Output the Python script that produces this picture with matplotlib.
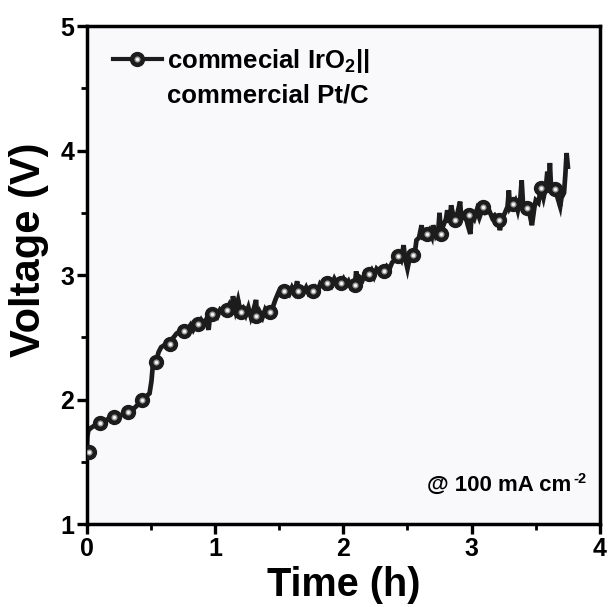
import numpy as np
import matplotlib
matplotlib.use("Agg")
import matplotlib.pyplot as plt
from matplotlib.lines import Line2D
from matplotlib.legend_handler import HandlerTuple
from matplotlib.ticker import MultipleLocator

plt.rcParams["font.family"] = ["Liberation Sans", "DejaVu Sans"]
plt.rcParams["font.weight"] = "bold"
plt.rcParams["mathtext.fontset"] = "custom"
plt.rcParams["mathtext.rm"] = "Liberation Sans:bold"
plt.rcParams["mathtext.bf"] = "Liberation Sans:bold"
plt.rcParams["mathtext.it"] = "Liberation Sans:bold"

# ---------- data ----------
# full voltage trace (noisy)
trace_t = [0.000, 0.005, 0.012, 0.030, 0.060, 0.098, 0.130, 0.160, 0.205, 0.240,
           0.280, 0.320, 0.360, 0.400, 0.430, 0.460, 0.490, 0.505, 0.515, 0.540,
           0.560, 0.580, 0.610, 0.650, 0.670, 0.700, 0.730, 0.760, 0.790, 0.810,
           0.830, 0.850, 0.870, 0.890, 0.910, 0.930, 0.950, 0.960, 0.980, 1.000,
           1.020, 1.040, 1.060, 1.090, 1.110, 1.130, 1.140, 1.160, 1.180, 1.200,
           1.220, 1.240, 1.260, 1.280, 1.300, 1.320, 1.330, 1.350, 1.370, 1.390,
           1.410, 1.430, 1.450, 1.470, 1.490, 1.510, 1.540, 1.560, 1.580, 1.600,
           1.620, 1.640, 1.650, 1.670, 1.690, 1.710, 1.730, 1.760, 1.780, 1.800,
           1.820, 1.850, 1.870, 1.890, 1.910, 1.930, 1.950, 1.980, 2.000, 2.020,
           2.040, 2.060, 2.090, 2.100, 2.110, 2.130, 2.150, 2.170, 2.200, 2.220,
           2.240, 2.260, 2.290, 2.320, 2.340, 2.360, 2.380, 2.400, 2.430, 2.450,
           2.470, 2.480, 2.500, 2.520, 2.540, 2.560, 2.570, 2.590, 2.610, 2.620,
           2.650, 2.670, 2.690, 2.700, 2.720, 2.740, 2.750, 2.760, 2.780, 2.800,
           2.810, 2.830, 2.840, 2.860, 2.870, 2.890, 2.910, 2.920, 2.950, 2.970,
           2.990, 3.000, 3.020, 3.040, 3.060, 3.090, 3.110, 3.140, 3.160, 3.180,
           3.210, 3.220, 3.240, 3.260, 3.280, 3.290, 3.300, 3.320, 3.340, 3.360,
           3.380, 3.390, 3.400, 3.430, 3.450, 3.470, 3.490, 3.500, 3.520, 3.540,
           3.560, 3.580, 3.590, 3.600, 3.610, 3.620, 3.650, 3.670, 3.690, 3.700,
           3.720, 3.730, 3.740, 3.750]
trace_v = [1.58, 1.70, 1.75, 1.77, 1.79, 1.81, 1.82, 1.84, 1.86, 1.86,
           1.88, 1.90, 1.92, 1.96, 2.00, 2.02, 2.05, 2.15, 2.27, 2.30,
           2.38, 2.42, 2.44, 2.45, 2.49, 2.53, 2.55, 2.55, 2.57, 2.60,
           2.56, 2.60, 2.61, 2.64, 2.60, 2.64, 2.56, 2.66, 2.69, 2.70,
           2.67, 2.72, 2.70, 2.72, 2.76, 2.70, 2.83, 2.72, 2.80, 2.70,
           2.73, 2.68, 2.74, 2.66, 2.72, 2.80, 2.62, 2.70, 2.66, 2.72,
           2.68, 2.70, 2.74, 2.80, 2.85, 2.84, 2.87, 2.88, 2.85, 2.90,
           2.86, 2.95, 2.87, 2.89, 2.86, 2.90, 2.85, 2.87, 2.90, 2.87,
           2.93, 2.90, 2.94, 2.96, 2.92, 2.97, 2.93, 2.94, 2.97, 2.92,
           2.95, 2.90, 2.92, 3.03, 2.94, 2.98, 2.96, 3.02, 3.01, 3.04,
           2.99, 3.05, 3.02, 3.03, 3.07, 3.05, 3.10, 3.12, 3.15, 3.12,
           3.24, 3.14, 3.05, 3.15, 3.16, 3.20, 3.28, 3.30, 3.40, 3.31,
           3.33, 3.36, 3.31, 3.40, 3.32, 3.36, 3.50, 3.33, 3.40, 3.45,
           3.52, 3.42, 3.56, 3.46, 3.44, 3.50, 3.59, 3.45, 3.49, 3.40,
           3.33, 3.48, 3.45, 3.52, 3.46, 3.55, 3.50, 3.51, 3.46, 3.48,
           3.44, 3.36, 3.46, 3.50, 3.55, 3.68, 3.54, 3.57, 3.60, 3.52,
           3.62, 3.76, 3.58, 3.54, 3.50, 3.40, 3.55, 3.60, 3.58, 3.70,
           3.62, 3.72, 3.83, 3.66, 3.90, 3.68, 3.69, 3.62, 3.55, 3.62,
           3.66, 3.80, 3.98, 3.87]

# sphere markers on the curve
mark_t = [0.02, 0.10, 0.21, 0.32, 0.43, 0.54, 0.65, 0.76, 0.87, 0.98,
          1.09, 1.20, 1.32, 1.43, 1.54, 1.65, 1.76, 1.87, 1.98, 2.09,
          2.20, 2.32, 2.43, 2.54, 2.65, 2.76, 2.87, 2.98, 3.09, 3.21,
          3.32, 3.43, 3.54, 3.65]
mark_v = [1.58, 1.81, 1.86, 1.90, 2.00, 2.30, 2.45, 2.55, 2.61, 2.69,
          2.72, 2.70, 2.67, 2.70, 2.87, 2.87, 2.87, 2.94, 2.94, 2.92,
          3.01, 3.03, 3.15, 3.16, 3.33, 3.33, 3.44, 3.48, 3.55, 3.44,
          3.57, 3.54, 3.70, 3.69]

legend_lines = [r"commecial IrO$_\mathbf{2}$||", "commercial Pt/C"]
note_main = "@ 100 mA cm"
note_sup = "-2"

DARK = "#1c1c1c"
MID = "#9a9a9a"
HI = "#f4f4f4"

fig = plt.figure(figsize=(6.11, 6.07), dpi=100)
ax = fig.add_axes([0.1419, 0.1367, 0.840, 0.8204])
ax.set_facecolor("#f9f9fc")

ax.plot(trace_t, trace_v, color=DARK, lw=3.4, solid_joinstyle="miter", zorder=2)
ax.plot(mark_t, mark_v, ls="none", marker="o", ms=10, color=DARK, mec=DARK, zorder=3)
ax.plot(mark_t, mark_v, ls="none", marker="o", ms=4.4, color=MID, mec="none", zorder=4)
ax.plot(mark_t, mark_v, ls="none", marker="o", ms=2.4, color=HI, mec="none", zorder=5)

ax.set_xlim(0, 4)
ax.set_ylim(1, 5)
ax.xaxis.set_major_locator(MultipleLocator(1))
ax.xaxis.set_minor_locator(MultipleLocator(0.5))
ax.yaxis.set_major_locator(MultipleLocator(1))
ax.yaxis.set_minor_locator(MultipleLocator(0.5))
ax.tick_params(which="major", direction="out", length=7, width=2.4, labelsize=18, pad=2)
ax.tick_params(which="minor", direction="out", length=4, width=2.0)
for lab in ax.get_xticklabels() + ax.get_yticklabels():
    lab.set_fontweight("bold")
for s in ax.spines.values():
    s.set_linewidth(2.5)

ax.set_xlabel("Time (h)", fontsize=28.5, fontweight="bold", labelpad=4)
ax.set_ylabel("Voltage (V)", fontsize=30, fontweight="bold")
ax.yaxis.set_label_coords(-0.073, 0.55)

# legend: sphere handle on first line, blank handle on second
h_line = Line2D([], [], color=DARK, lw=3.0, marker="o", ms=10, mfc=DARK, mec=DARK)
h_mid = Line2D([], [], ls="none", marker="o", ms=4.4, color=MID, mec="none")
h_hi = Line2D([], [], ls="none", marker="o", ms=2.4, color=HI, mec="none")
h_blank = Line2D([], [], ls="none")
leg = ax.legend([(h_line, h_mid, h_hi), h_blank], legend_lines,
                handler_map={tuple: HandlerTuple(ndivide=1, pad=0)},
                loc="upper left", bbox_to_anchor=(0.051, 0.958), frameon=False,
                fontsize=18.5, handlelength=1.9, handletextpad=0.2,
                labelspacing=0.32, borderpad=0, borderaxespad=0)
for t in leg.get_texts():
    t.set_fontweight("bold")

txt = ax.text(0.945, 0.078, note_main, transform=ax.transAxes, ha="right", va="center",
              fontsize=16, fontweight="bold")
ax.annotate(note_sup, xy=(1.0, 1.0), xycoords=txt, xytext=(1, -3),
            textcoords="offset points", ha="left", va="center",
            fontsize=10.5, fontweight="bold")

fig.savefig("out.png", dpi=100)
